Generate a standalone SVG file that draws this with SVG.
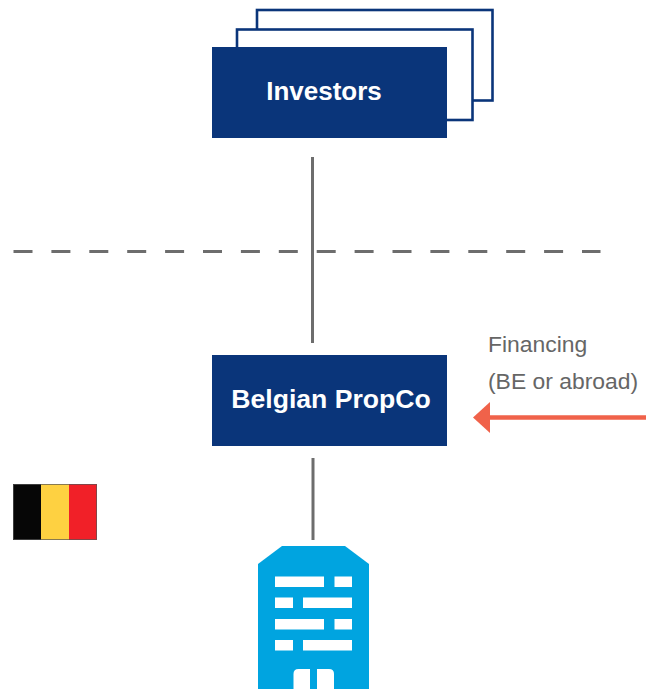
<svg xmlns="http://www.w3.org/2000/svg" width="646" height="689" viewBox="0 0 646 689">
<style>
.frame{fill:#fff;stroke:#0a357a;stroke-width:2.6}
.box{fill:#0a357a}
.title{font-family:"Liberation Sans",Arial,sans-serif;font-weight:700;font-size:26px;fill:#fff;text-anchor:middle}
.note{font-family:"Liberation Sans",Arial,sans-serif;font-size:22.9px;fill:#666}
.line{fill:none;stroke:#6d6d6d;stroke-width:3}
.win{fill:#fff}
</style>
<rect width="646" height="689" fill="#fff"/>
<g id="connectors">
<path class="line" d="M13.5 251.5H600.500" stroke-dasharray="19 18.9"/>
<path class="line" d="M312.5 157V343"/>
<path class="line" d="M313 458V540"/>
<path fill="none" stroke="#f0624a" stroke-width="4.4" d="M488 417.5H646"/>
<path fill="#f0624a" d="M473 417.5L490 402V433Z"/>
</g>
<g id="investors">
<rect class="frame" x="257" y="10" width="235.500" height="90.500"/>
<rect class="frame" x="237" y="29.500" width="235.500" height="90.500"/>
<rect class="box" x="212" y="47" width="235" height="91"/>
<text class="title" x="324" y="100">Investors</text>
</g>
<g id="propco">
<rect class="box" x="212" y="355" width="235" height="91"/>
<text class="title" x="331" y="408" style="font-size:26.6px">Belgian PropCo</text>
</g>
<g id="financing">
<text class="note" x="488" y="352">Financing</text>
<text class="note" x="488" y="389">(BE or abroad)</text>
</g>
<g id="flag">
<rect x="13" y="484" width="28" height="56" fill="#060606"/>
<rect x="41" y="484" width="28" height="56" fill="#fed141"/>
<rect x="69" y="484" width="28" height="56" fill="#f12028"/>
<rect x="13.500" y="484.500" width="83" height="55" fill="none" stroke="#555" stroke-opacity=".7"/>
</g>
<g id="building">
<path fill="#00a4e0" d="M282 546H345L369 564V689H258V564Z"/>
<rect class="win" x="275" y="576.500" width="49" height="10.500"/>
<rect class="win" x="334.500" y="576.500" width="17.500" height="10.500"/>
<rect class="win" x="275" y="597.500" width="18" height="10.500"/>
<rect class="win" x="303" y="597.500" width="49" height="10.500"/>
<rect class="win" x="275" y="619" width="49" height="10.500"/>
<rect class="win" x="334.500" y="619" width="17.500" height="10.500"/>
<rect class="win" x="275" y="640" width="18" height="10.500"/>
<rect class="win" x="303" y="640" width="49" height="10.500"/>
<path class="win" d="M293.500 689V674Q293.500 669 298.500 669H310V689Z"/>
<path class="win" d="M317 689V669H329Q334 669 334 674V689Z"/>
</g>
</svg>
